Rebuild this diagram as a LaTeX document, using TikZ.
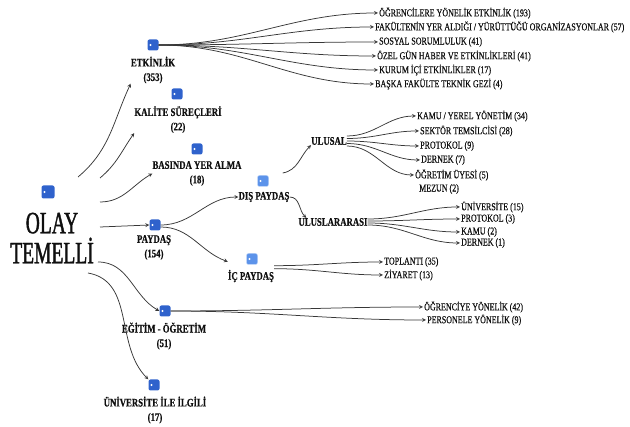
\documentclass[tikz,border=0pt]{standalone}
\usepackage{fontspec}
\setmainfont[FakeStretch=0.76,FakeBold=0.5]{Liberation Serif}
\newfontfamily\olayfont[FakeStretch=0.63,FakeBold=1.2]{Liberation Serif}
\usetikzlibrary{arrows}
\definecolor{ikonmavi}{RGB}{47,98,204}
\definecolor{ikonacik}{RGB}{92,147,234}
\definecolor{cizgi}{RGB}{55,55,55}
\definecolor{yazi}{RGB}{15,15,15}

\begin{document}
\begin{tikzpicture}[x=1pt,y=-1pt,yazi,
  ikon/.style={rectangle,rounded corners=2pt,fill=ikonmavi,minimum size=11pt,inner sep=0pt,
    path picture={\fill[white] ([xshift=3pt]path picture bounding box.west) circle (1.1pt);}},
  acik/.style={ikon,fill=ikonacik,draw=ikonacik!40},
  baslik/.style={font=\bfseries\fontsize{11.5}{14.5}\selectfont,align=center,inner sep=0pt},
  yaprak/.style={font=\fontsize{10.5}{12}\selectfont,anchor=west,inner sep=1pt},
  ok/.style={draw=cizgi,line width=0.75pt,-stealth},
  ]
	\useasboundingbox (0,0) rectangle (630,427);
	% kok
	\node[ikon,minimum size=13pt] (olayk) at (48,192) {};
	\node[font=\olayfont\fontsize{31}{30}\selectfont,align=center,inner sep=0pt] (olay) at (52,238) {OLAY\\TEMELLİ};
	% ana basliklar
	\node[ikon] (etk) at (153,45) {};
	\node[baslik] (etkl) at (153,70) {ETKİNLİK\\(353)};
	\node[ikon] (kal) at (177,94) {};
	\node[baslik] (kall) at (178,119.5) {KALİTE SÜREÇLERİ\\(22)};
	\node[ikon] (bas) at (197,149) {};
	\node[baslik] (basl) at (197,173.5) {BASINDA YER ALMA\\(18)};
	\node[ikon] (pay) at (155,225) {};
	\node[baslik] (payl) at (154,247.5) {PAYDAŞ\\(154)};
	\node[ikon] (egi) at (165,311) {};
	\node[baslik] (egil) at (164,336) {EĞİTİM - ÖĞRETİM\\(51)};
	\node[ikon] (uni) at (154,385) {};
	\node[baslik] (unil) at (155,410) {ÜNİVERSİTE İLE İLGİLİ\\(17)};
	% paydas alt dallari
	\node[acik] (dis) at (263,181) {};
	\node[baslik] (disl) at (264,197) {DIŞ PAYDAŞ};
	\node[acik] (ic) at (252,259) {};
	\node[baslik] (icl) at (251,276) {İÇ PAYDAŞ};
	\node[baslik] (ulusal) at (329,141) {ULUSAL};
	\node[baslik] (ulu) at (333,222) {ULUSLARARASI};
	% kokten cikan oklar
	\coordinate (o1) at (78,177);
	\coordinate (o2) at (100,178);
	\coordinate (o3) at (100,202);
	\coordinate (o4) at (100,227);
	\coordinate (o5) at (98,262);
	\coordinate (o6) at (88,273);
	\draw[ok] (o1) to[out=40,in=245] (etkl.south west);
	\draw[ok] (o2) to[out=40,in=235] (kall.south west);
	\draw[ok] (o3) to[out=0,in=210] (basl.west);
	\draw[ok] (o4) -- (pay.west);
	\draw[ok] (o5) to[out=0,in=150] (egi.west);
	\draw[ok] (o6) to[out=-10,in=135] (uni.north west);
	\draw[ok] (pay.east) to[out=0,in=180] (disl.west);
	\draw[ok] ([yshift=-2pt]pay.east) to[out=0,in=160] ([yshift=8pt]icl.north west);
	\draw[ok] ([xshift=14pt,yshift=8pt]dis.east) to[out=10,in=225] (ulusal.south west);
	\draw[ok] (disl.east) to[out=0,in=135] ([xshift=8pt]ulu.north west);
	% etkinlik
	\node[yaprak] (e1) at (378,13) {ÖĞRENCİLERE YÖNELİK ETKİNLİK (193)};
	\node[yaprak] (e2) at (374,27) {FAKÜLTENİN YER ALDIĞI / YÜRÜTTÜĞÜ ORGANİZASYONLAR (57)};
	\node[yaprak] (e3) at (378,42) {SOSYAL SORUMLULUK (41)};
	\node[yaprak] (e4) at (376,56) {ÖZEL GÜN HABER VE ETKİNLİKLERİ (41)};
	\node[yaprak] (e5) at (378,70) {KURUM İÇİ ETKİNLİKLER (17)};
	\node[yaprak] (e6) at (374,84) {BAŞKA FAKÜLTE TEKNİK GEZİ (4)};
	\foreach \n in {1,...,6} \draw[ok] (etk.east) to[out=0,in=180] (e\n.west);
	% ulusal
	\node[yaprak] (u1) at (416,116) {KAMU / YEREL YÖNETİM (34)};
	\node[yaprak] (u2) at (419,131) {SEKTÖR TEMSİLCİSİ (28)};
	\node[yaprak] (u3) at (419,146) {PROTOKOL (9)};
	\node[yaprak] (u4) at (420,160) {DERNEK (7)};
	\node[yaprak] (u5) at (414,175) {ÖĞRETİM ÜYESİ (5)};
	\node[yaprak] (u6) at (418,189) {MEZUN (2)};
	\foreach \n/\d in {1/5,2/2.5,3/0,4/-2.5,5/-5} \draw[ok] ([yshift=\d pt]ulusal.east) to[out=0,in=180] (u\n.west);
	% uluslararasi
	\node[yaprak] (k1) at (460,207) {ÜNİVERSİTE (15)};
	\node[yaprak] (k2) at (460,219) {PROTOKOL (3)};
	\node[yaprak] (k3) at (460,232) {KAMU (2)};
	\node[yaprak] (k4) at (460,243) {DERNEK (1)};
	\foreach \n/\d in {1/3,2/1,3/-1,4/-3} \draw[ok] ([yshift=\d pt]ulu.east) to[out=0,in=180] (k\n.west);
	% ic paydas
	\node[yaprak] (i1) at (383,262) {TOPLANTI (35)};
	\node[yaprak] (i2) at (383,275) {ZİYARET (13)};
	\draw[ok] ([yshift=4pt]icl.north east) to[out=0,in=180] (i1.west);
	\draw[ok] ([yshift=1pt]icl.north east) to[out=0,in=180] (i2.west);
	% egitim
	\node[yaprak] (g1) at (423,307) {ÖĞRENCİYE YÖNELİK (42)};
	\node[yaprak] (g2) at (426,320) {PERSONELE YÖNELİK (9)};
	\draw[ok] (egi.east) to[out=0,in=180] (g1.west);
	\draw[ok] (egi.east) to[out=0,in=180] (g2.west);
\end{tikzpicture}
\end{document}
